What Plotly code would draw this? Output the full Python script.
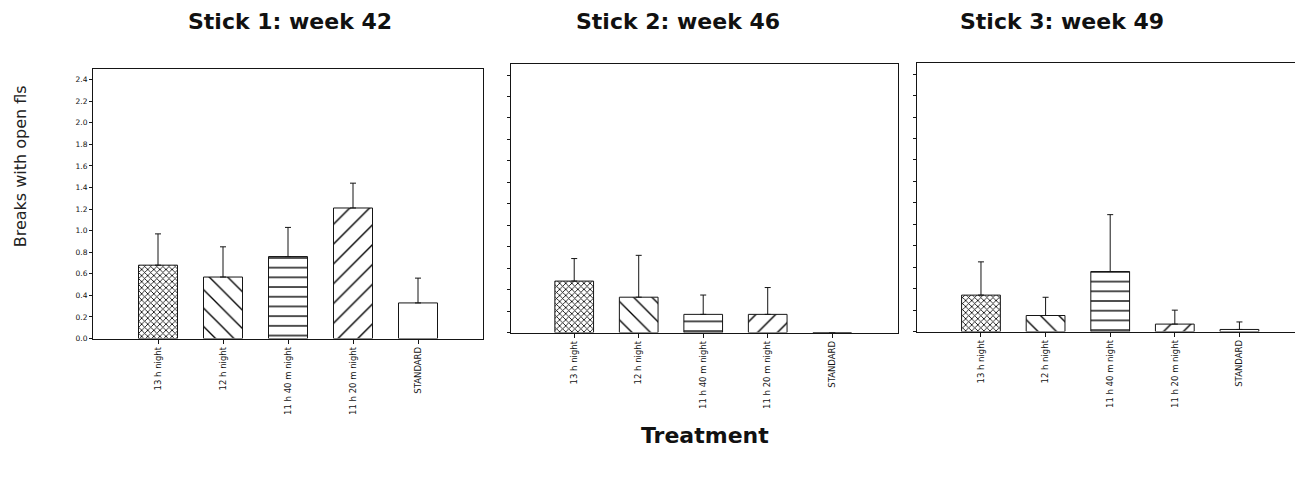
import plotly.graph_objects as go

W, H = 1295, 494

treatments = ["13 h night", "12 h night", "11 h 40 m night", "11 h 20 m night", "STANDARD"]
panel_titles = ["Stick 1: week 42", "Stick 2: week 46", "Stick 3: week 49"]

# mean breaks with open florets per treatment, and upper standard error
week42_mean = [0.68, 0.57, 0.76, 1.21, 0.33]
week42_err = [0.29, 0.28, 0.27, 0.23, 0.23]
week46_mean = [0.48, 0.33, 0.17, 0.17, 0.0]
week46_err = [0.21, 0.39, 0.18, 0.25, 0.0]
week49_mean = [0.34, 0.15, 0.56, 0.07, 0.02]
week49_err = [0.31, 0.17, 0.53, 0.13, 0.07]

y_ticks = [0.0, 0.2, 0.4, 0.6, 0.8, 1.0, 1.2, 1.4, 1.6, 1.8, 2.0, 2.2, 2.4]

# hatch per treatment: (shape, size, solidity)
hatches = [("x", 4.3, 0.34), ("\\", 13, 0.105), ("-", 9.7, 0.14), ("/", 14, 0.1), ("", 8, 0.1)]

means = [week42_mean, week46_mean, week49_mean]
errs = [week42_err, week46_err, week49_err]

# pixel boxes of each panel: (left, right, top, bottom)
boxes = [(93, 483, 69.5, 342), (511, 898, 65, 336), (917, 1295, 64, 335)]
x_ranges = [[-1, 5], [-0.98, 5.02], [-0.99, 4.86]]

fig = go.Figure()
line_col = "#151515"

for p in range(3):
    xa = "x" if p == 0 else f"x{p+1}"
    ya = "y" if p == 0 else f"y{p+1}"
    for i, t in enumerate(treatments):
        shape, size, sol = hatches[i]
        fig.add_trace(go.Bar(
            x=[i], y=[means[p][i]],
            width=0.6,
            xaxis=xa, yaxis=ya,
            marker=dict(
                color="white",
                line=dict(color=line_col, width=1),
                pattern=dict(shape=shape, size=size, solidity=sol,
                             fgcolor="black", bgcolor="white", fillmode="replace"),
            ),
            error_y=dict(type="data", symmetric=False, array=[errs[p][i]], arrayminus=[0],
                         color=line_col, thickness=1, width=3),
            showlegend=False,
        ))

    left, right, top, bottom = boxes[p]
    xd = [left / W, min(right / W, 1.0)]
    yd = [1 - bottom / H, 1 - top / H]
    axis_suffix = "" if p == 0 else str(p + 1)
    fig.layout["xaxis" + axis_suffix] = dict(
        domain=xd, range=x_ranges[p],
        tickmode="array", tickvals=list(range(5)), ticktext=treatments,
        tickangle=-90, ticks="outside", ticklen=4, tickwidth=1, tickcolor=line_col,
        tickfont=dict(family="DejaVu Sans", size=8.5, color="#111"),
        showline=True, linecolor=line_col, linewidth=1, mirror=True,
        showgrid=False, zeroline=False, anchor=ya, fixedrange=True,
    )
    # the last panel runs off the right edge, so it has no right-hand frame line
    fig.layout["yaxis" + axis_suffix] = dict(
        domain=yd, range=[0, 2.5],
        tickmode="array", tickvals=y_ticks, tickformat=".1f",
        showticklabels=(p == 0),
        ticks="outside", ticklen=3, tickwidth=1, tickcolor=line_col,
        tickfont=dict(family="DejaVu Sans", size=7.5, color="#111"),
        showline=True, linecolor=line_col, linewidth=1, mirror=(p < 2),
        showgrid=False, zeroline=False, anchor=xa, fixedrange=True,
    )

annotations = []
title_x = [290, 678, 1062]
for p in range(3):
    annotations.append(dict(
        text=f"<b>{panel_titles[p]}</b>", x=title_x[p] / W, y=1 - 22 / H,
        xref="paper", yref="paper", showarrow=False,
        xanchor="center", yanchor="middle",
        font=dict(family="DejaVu Sans", size=22, color="#111"),
    ))
annotations.append(dict(
    text="Breaks with open fls", x=20 / W, y=1 - 168 / H, textangle=-90,
    xref="paper", yref="paper", showarrow=False, xanchor="center", yanchor="middle",
    font=dict(family="DejaVu Sans", size=16, color="#222"),
))
annotations.append(dict(
    text="<b>Treatment</b>", x=705 / W, y=1 - 440 / H,
    xref="paper", yref="paper", showarrow=False, xanchor="center", yanchor="middle",
    font=dict(family="DejaVu Sans", size=22, color="#111"),
))

fig.update_layout(
    width=W, height=H,
    margin=dict(l=0, r=0, t=0, b=0),
    paper_bgcolor="white", plot_bgcolor="white",
    barmode="overlay",
    annotations=annotations,
)

fig.write_html("out.html", config={"displayModeBar": False})
